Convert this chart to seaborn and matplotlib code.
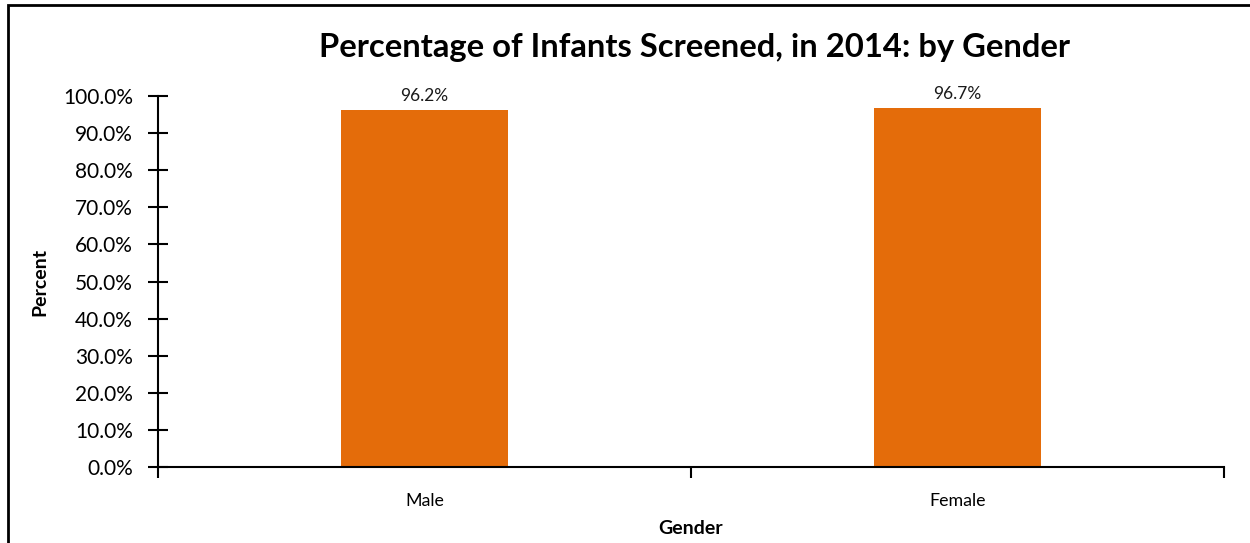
import matplotlib
matplotlib.use("Agg")
import matplotlib.pyplot as plt
import seaborn as sns
import pandas as pd
from matplotlib.patches import Rectangle
from matplotlib.ticker import FuncFormatter, MultipleLocator

categories = ["Male", "Female"]
values = [96.2, 96.7]
labels = ["96.2%", "96.7%"]

sns.set_theme(style="white")
plt.rcParams['font.family'] = ['Lato', 'DejaVu Sans']
plt.rcParams['text.color'] = 'black'
plt.rcParams['axes.labelcolor'] = 'black'

df = pd.DataFrame({"Gender": categories, "Percent": values})

W, H = 1250, 543
fig = plt.figure(figsize=(W / 100, H / 100), dpi=100)
ax = fig.add_axes([158 / W, 1 - 467 / H, (1224 - 158) / W, (467 - 96) / H])

sns.barplot(data=df, x="Gender", y="Percent", color="#E46C0A", width=0.313,
            saturation=1, ax=ax, edgecolor="none")

ax.set_xlim(-0.5, 1.5)
ax.set_ylim(0, 100)
ax.yaxis.set_major_locator(MultipleLocator(10))
ax.yaxis.set_major_formatter(FuncFormatter(lambda v, p: f"{v:.1f}%"))

for i, (v, lab) in enumerate(zip(values, labels)):
    ax.text(i, v + 1.6, lab, ha="center", va="bottom", fontsize=12.5, color="#1a1a1a")

# category boundary ticks
ax.set_xticks([-0.5, 0.5, 1.5], minor=True)
ax.tick_params(axis="x", which="major", bottom=True, length=0, labelsize=12.8, pad=19, colors="#000000")
ax.tick_params(axis="x", which="minor", bottom=True, length=8, width=1.5, direction="out", color="black")
ax.tick_params(axis="y", which="major", left=True, length=14, width=1.5, direction="inout",
               labelsize=15, pad=11, colors="#000000")

for s in ["top", "right"]:
    ax.spines[s].set_visible(False)
for s in ["left", "bottom"]:
    ax.spines[s].set_color("black")
    ax.spines[s].set_linewidth(1.5)

ax.set_xlabel("Gender", fontsize=14, fontweight="bold", labelpad=7.5, color="black")
ax.set_ylabel("Percent", fontsize=14, fontweight="bold", labelpad=10.5, color="black")

fig.text((318 + 1071) / 2 / W, 1 - 47 / H, "Percentage of Infants Screened, in 2014: by Gender",
         ha="center", va="center", fontsize=23.6, fontweight="bold", color="black")

# outer frame
fig.patches.append(Rectangle((8 / W, -0.05), 1.2, 1 - 5 / H + 0.05, transform=fig.transFigure,
                             fill=False, edgecolor="black", linewidth=2))

fig.savefig("out.png", dpi=100)
